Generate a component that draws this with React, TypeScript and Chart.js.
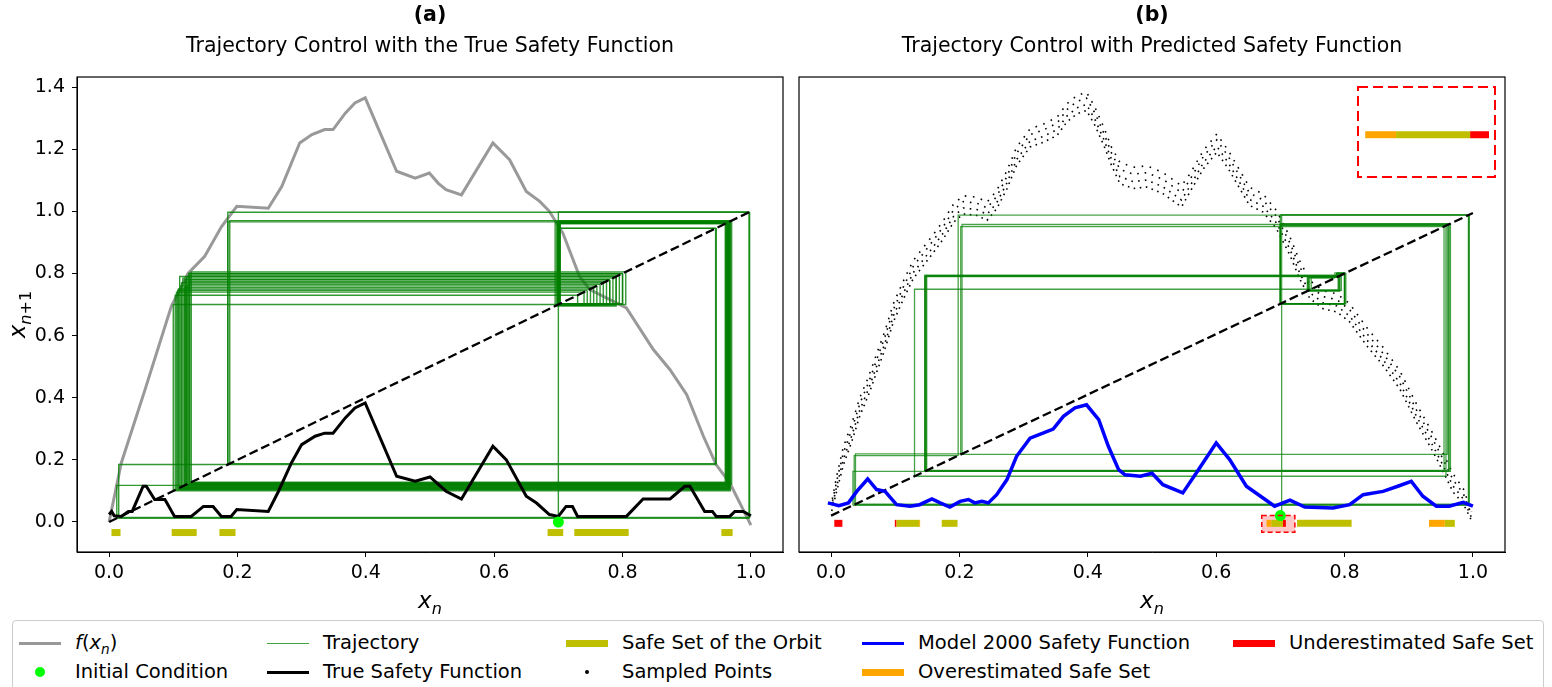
import React, { useEffect, useRef } from 'react';
import { Chart, registerables } from 'chart.js';

Chart.register(...registerables);

const FONT = '"DejaVu Sans", sans-serif';

// ---------------- data ----------------
const xTickValues = [0, 0.2, 0.4, 0.6, 0.8, 1.0];
const yTickValues = [0, 0.2, 0.4, 0.6, 0.8, 1.0, 1.2, 1.4];

// true map f(x_n)
const mapX = [0.0, 0.019, 0.056, 0.097, 0.123, 0.149, 0.175, 0.199, 0.248, 0.269, 0.297, 0.316, 0.336, 0.349, 0.368, 0.383, 0.399, 0.448, 0.477, 0.499, 0.513, 0.525, 0.549, 0.598, 0.624, 0.65, 0.671, 0.686, 0.707, 0.733, 0.749, 0.806, 0.848, 0.874, 0.9, 0.926, 0.946, 0.967, 1.0];
const mapY = [0.0, 0.19, 0.426, 0.694, 0.8, 0.855, 0.95, 1.016, 1.01, 1.08, 1.22, 1.247, 1.263, 1.263, 1.316, 1.349, 1.365, 1.129, 1.107, 1.123, 1.09, 1.07, 1.053, 1.22, 1.166, 1.064, 1.032, 1.0, 0.93, 0.79, 0.748, 0.689, 0.555, 0.49, 0.41, 0.276, 0.184, 0.126, -0.01];

// true safety function
const trueSafetyX = [0, 0.004, 0.008, 0.019, 0.03, 0.036, 0.053, 0.058, 0.071, 0.087, 0.102, 0.128, 0.147, 0.162, 0.175, 0.19, 0.199, 0.248, 0.264, 0.284, 0.3, 0.321, 0.336, 0.349, 0.368, 0.383, 0.399, 0.448, 0.477, 0.5, 0.525, 0.549, 0.598, 0.619, 0.65, 0.666, 0.686, 0.7, 0.712, 0.722, 0.73, 0.806, 0.832, 0.874, 0.897, 0.905, 0.928, 0.94, 0.946, 0.967, 0.975, 0.988, 1.0];
const trueSafetyY = [0.024, 0.034, 0.02, 0.018, 0.034, 0.034, 0.115, 0.115, 0.072, 0.072, 0.018, 0.018, 0.05, 0.05, 0.018, 0.018, 0.04, 0.034, 0.099, 0.19, 0.249, 0.276, 0.286, 0.286, 0.335, 0.367, 0.383, 0.147, 0.131, 0.145, 0.099, 0.074, 0.244, 0.2, 0.083, 0.061, 0.024, 0.018, 0.05, 0.05, 0.018, 0.018, 0.074, 0.074, 0.115, 0.115, 0.034, 0.034, 0.018, 0.018, 0.034, 0.034, 0.02];

// model 2000 predicted safety function
const modelSafetyX = [-0.005, 0.012, 0.027, 0.04, 0.057, 0.071, 0.084, 0.102, 0.123, 0.138, 0.157, 0.17, 0.185, 0.201, 0.214, 0.224, 0.235, 0.245, 0.258, 0.274, 0.289, 0.31, 0.331, 0.346, 0.362, 0.38, 0.398, 0.417, 0.432, 0.448, 0.458, 0.482, 0.5, 0.517, 0.548, 0.569, 0.6, 0.621, 0.647, 0.673, 0.691, 0.715, 0.738, 0.782, 0.808, 0.829, 0.86, 0.883, 0.904, 0.922, 0.943, 0.963, 0.985, 1.0];
const modelSafetyY = [0.042, 0.033, 0.042, 0.08, 0.121, 0.086, 0.08, 0.036, 0.031, 0.036, 0.055, 0.042, 0.028, 0.047, 0.053, 0.042, 0.047, 0.042, 0.069, 0.119, 0.196, 0.256, 0.273, 0.286, 0.328, 0.356, 0.366, 0.317, 0.229, 0.152, 0.135, 0.13, 0.14, 0.102, 0.075, 0.141, 0.24, 0.185, 0.097, 0.058, 0.031, 0.051, 0.028, 0.025, 0.036, 0.069, 0.08, 0.097, 0.113, 0.064, 0.031, 0.031, 0.044, 0.031];

// sampled points (centre of the noisy cloud and its half width)
const sampledX = [0.001, 0.009, 0.019, 0.032, 0.045, 0.058, 0.071, 0.084, 0.097, 0.113, 0.128, 0.144, 0.16, 0.175, 0.191, 0.206, 0.227, 0.243, 0.258, 0.274, 0.289, 0.31, 0.331, 0.352, 0.367, 0.383, 0.398, 0.411, 0.425, 0.437, 0.45, 0.471, 0.492, 0.517, 0.546, 0.559, 0.58, 0.601, 0.619, 0.637, 0.652, 0.673, 0.694, 0.715, 0.73, 0.746, 0.767, 0.788, 0.808, 0.834, 0.86, 0.886, 0.912, 0.938, 0.954, 0.969, 0.985, 0.998];
const sampledY = [0.03, 0.108, 0.196, 0.273, 0.361, 0.427, 0.504, 0.581, 0.67, 0.747, 0.813, 0.857, 0.901, 0.945, 1.0, 1.027, 1.022, 1.006, 1.044, 1.11, 1.187, 1.248, 1.264, 1.286, 1.33, 1.358, 1.369, 1.32, 1.253, 1.187, 1.132, 1.116, 1.121, 1.099, 1.055, 1.099, 1.176, 1.231, 1.176, 1.11, 1.055, 1.033, 0.978, 0.89, 0.813, 0.747, 0.713, 0.703, 0.67, 0.593, 0.526, 0.449, 0.339, 0.24, 0.174, 0.108, 0.064, -0.002];
const sampledSpread = [0.015, 0.025, 0.03, 0.03, 0.03, 0.03, 0.03, 0.03, 0.03, 0.03, 0.03, 0.03, 0.03, 0.03, 0.03, 0.03, 0.03, 0.03, 0.03, 0.03, 0.03, 0.03, 0.03, 0.03, 0.03, 0.03, 0.03, 0.03, 0.03, 0.03, 0.035, 0.035, 0.035, 0.035, 0.035, 0.03, 0.03, 0.03, 0.03, 0.03, 0.03, 0.03, 0.03, 0.03, 0.03, 0.03, 0.03, 0.03, 0.03, 0.03, 0.03, 0.03, 0.03, 0.03, 0.03, 0.03, 0.025, 0.015];

// controlled orbits (x_0, x_1, x_2, ...)
const orbitA = [0.70, 0.998, 0.015, 0.185, 0.997, 0.012, 0.118, 0.78, 0.70, 0.965, 0.112, 0.76, 0.698, 0.962, 0.125, 0.80, 0.702, 0.967, 0.105, 0.74, 0.70, 0.945, 0.185, 0.966, 0.11, 0.79, 0.695, 0.964, 0.12, 0.775, 0.703, 0.96, 0.128, 0.805, 0.70, 0.968, 0.10, 0.70, 0.966, 0.108, 0.75, 0.699, 0.963, 0.115, 0.785, 0.701, 0.946, 0.188, 0.97, 0.122, 0.765, 0.70, 0.966, 0.103, 0.73, 0.70, 0.961, 0.126, 0.795, 0.702, 0.965, 0.113, 0.77, 0.70, 0.967, 0.117, 0.755, 0.70, 0.962, 0.121, 0.79, 0.698, 0.965, 0.107, 0.745, 0.70, 0.964, 0.124, 0.80, 0.702, 0.966, 0.119, 0.78, 0.70];
const orbitB = [0.702, 0.994, 0.038, 0.204, 0.962, 0.147, 0.792, 0.742, 0.788, 0.80, 0.70, 0.96, 0.202, 0.955, 0.149, 0.79, 0.745, 0.785, 0.802, 0.70, 0.994, 0.036, 0.198, 0.993, 0.034, 0.146, 0.795, 0.744, 0.79, 0.80, 0.70, 0.958, 0.13, 0.748, 0.788, 0.80, 0.70, 0.963, 0.148, 0.793, 0.743, 0.788, 0.80, 0.70, 0.965, 0.146, 0.791, 0.745];
const initialCondition = 0.7;

// safe sets (intervals on x)
const safeSetA = [[0.0037, 0.0178], [0.0975, 0.1365], [0.1719, 0.197], [0.6832, 0.7076], [0.7248, 0.8096], [0.954, 0.9715]];
const safeSetB = [[0.102, 0.1373], [0.1724, 0.197], [0.686, 0.704], [0.726, 0.811], [0.9562, 0.9718]];
const underSetB = [[0.005, 0.0176], [0.0993, 0.102], [0.704, 0.7086]];
const overSetB = [[0.1373, 0.1387], [0.6785, 0.686], [0.9316, 0.9562]];
const safeBarLevelA = -0.034;
const safeBarLevelB = -0.0256;

// zoomed region marked in panel (b) and shown in the inset
const zoomRegionX = [0.671, 0.7226];
const zoomRegionY = [-0.055, 0.0];
const insetRangeX = [0.6765, 0.7103];
const insetRangeY = [-0.0572, 0.01];

// ---------------- helpers ----------------
const pts = (xs: number[], ys: number[]) => xs.map((x, i) => ({ x, y: ys[i] }));

function lineDs(data: any[], color: string, width: number, order: number, extra: any = {}) {
  return {
    data,
    showLine: true,
    borderColor: color,
    backgroundColor: color,
    borderWidth: width,
    pointRadius: 0,
    fill: false,
    tension: 0,
    order,
    ...extra,
  };
}

function cobwebDatasets(orbit: number[], color: string, width: number) {
  const out: any[] = [];
  for (let n = 0; n < orbit.length - 1; n++) {
    const a = orbit[n];
    const b = orbit[n + 1];
    const start = n === 0 ? 0 : a;
    out.push(
      lineDs(
        [
          { x: a, y: start },
          { x: a, y: b },
          { x: b, y: b },
        ],
        color,
        width,
        6
      )
    );
  }
  return out;
}

function barDatasets(intervals: number[][], level: number, color: string, order: number) {
  return intervals.map((iv) =>
    lineDs(
      [
        { x: iv[0], y: level },
        { x: iv[1], y: level },
      ],
      color,
      7,
      order,
      { borderCapStyle: 'butt' }
    )
  );
}

type Part = { t: string; italic?: boolean; sub?: boolean };

function drawMath(ctx: CanvasRenderingContext2D, parts: Part[], cx: number, cy: number, size: number) {
  const subSize = size * 0.7;
  const fontOf = (p: Part) => `${p.italic ? 'italic ' : ''}${p.sub ? subSize : size}px ${FONT}`;
  let total = 0;
  const widths = parts.map((p) => {
    ctx.font = fontOf(p);
    const w = ctx.measureText(p.t).width;
    total += w;
    return w;
  });
  let x = cx - total / 2;
  ctx.textBaseline = 'alphabetic';
  ctx.textAlign = 'left';
  parts.forEach((p, i) => {
    ctx.font = fontOf(p);
    ctx.fillText(p.t, x, cy + size * 0.3 + (p.sub ? size * 0.25 : 0));
    x += widths[i];
  });
}

const RED = '#ff0000';
const ORANGE = '#ffa500';
const OLIVE = '#bfbf00';
const GREEN_TRAJ_A = 'rgba(0,128,0,0.8)';
const GREEN_TRAJ_B = 'rgba(0,128,0,0.72)';

function decorPlugin(opts: { label: string; title: string; yLabel: boolean; zoom: boolean }) {
  return {
    id: 'decor',
    beforeDatasetsDraw(chart: any) {
      if (!opts.zoom) return;
      const { ctx } = chart;
      const xs = chart.scales.x;
      const ys = chart.scales.y;
      const x0 = xs.getPixelForValue(zoomRegionX[0]);
      const x1 = xs.getPixelForValue(zoomRegionX[1]);
      const y0 = ys.getPixelForValue(zoomRegionY[1]);
      const y1 = ys.getPixelForValue(zoomRegionY[0]);
      ctx.save();
      ctx.fillStyle = 'rgba(255,0,0,0.22)';
      ctx.fillRect(x0, y0, x1 - x0, y1 - y0);
      ctx.restore();
    },
    afterDatasetsDraw(chart: any) {
      const { ctx } = chart;
      if (opts.zoom) {
        const xs = chart.scales.x;
        const ys = chart.scales.y;
        const x0 = xs.getPixelForValue(zoomRegionX[0]);
        const x1 = xs.getPixelForValue(zoomRegionX[1]);
        const y0 = ys.getPixelForValue(zoomRegionY[1]);
        const y1 = ys.getPixelForValue(zoomRegionY[0]);
        ctx.save();
        ctx.strokeStyle = RED;
        ctx.lineWidth = 1.5;
        ctx.setLineDash([5, 3]);
        ctx.strokeRect(x0, y0, x1 - x0, y1 - y0);
        ctx.restore();
      }
    },
    afterDraw(chart: any) {
      const { ctx, chartArea } = chart;
      const cx = (chartArea.left + chartArea.right) / 2;
      ctx.save();
      ctx.strokeStyle = '#000';
      ctx.lineWidth = 1.2;
      ctx.strokeRect(chartArea.left, chartArea.top, chartArea.right - chartArea.left, chartArea.bottom - chartArea.top);
      ctx.fillStyle = '#000';
      ctx.textAlign = 'center';
      ctx.textBaseline = 'middle';
      ctx.font = `bold 20.5px ${FONT}`;
      ctx.fillText(opts.label, cx, 16);
      ctx.font = `20.5px ${FONT}`;
      ctx.fillText(opts.title, cx, 47);
      drawMath(ctx, [{ t: 'x', italic: true }, { t: 'n', italic: true, sub: true }], cx, 601, 23);
      if (opts.yLabel) {
        ctx.save();
        ctx.translate(18, (chartArea.top + chartArea.bottom) / 2);
        ctx.rotate(-Math.PI / 2);
        drawMath(
          ctx,
          [
            { t: 'x', italic: true },
            { t: 'n', italic: true, sub: true },
            { t: '+1', sub: true },
          ],
          0,
          0,
          23
        );
        ctx.restore();
      }
      ctx.restore();
    },
  };
}

function axisOptions(ymin: number, ymax: number, showY: boolean) {
  return {
    x: {
      type: 'linear',
      min: -0.05,
      max: 1.05,
      afterBuildTicks: (s: any) => {
        s.ticks = xTickValues.map((v) => ({ value: v }));
      },
      afterFit: (s: any) => {
        s.height = 63;
      },
      ticks: {
        font: { family: FONT, size: 19 },
        color: '#000',
        padding: 5,
        maxRotation: 0,
        autoSkip: false,
        callback: (v: any) => Number(v).toFixed(1),
      },
      grid: { drawOnChartArea: false, drawTicks: true, tickLength: 5, color: '#000', lineWidth: 1 },
      border: { display: true, color: '#000', width: 1 },
    },
    y: {
      type: 'linear',
      display: showY,
      min: ymin,
      max: ymax,
      afterBuildTicks: (s: any) => {
        s.ticks = yTickValues.map((v) => ({ value: v }));
      },
      afterFit: (s: any) => {
        s.width = showY ? 77 : 0;
      },
      ticks: {
        font: { family: FONT, size: 19 },
        color: '#000',
        padding: 7,
        autoSkip: false,
        callback: (v: any) => Number(v).toFixed(1),
      },
      grid: { drawOnChartArea: false, drawTicks: true, tickLength: 5, color: '#000', lineWidth: 1 },
      border: { display: true, color: '#000', width: 1 },
    },
  };
}

function buildConfigA(): any {
  const datasets: any[] = [];
  datasets.push(lineDs(pts(mapX, mapY), '#999999', 3, 8));
  datasets.push(...cobwebDatasets(orbitA, GREEN_TRAJ_A, 1.4));
  datasets.push(lineDs([{ x: 0, y: 0 }, { x: 1, y: 1 }], '#000', 2.3, 4, { borderDash: [9, 4] }));
  datasets.push(lineDs(pts(trueSafetyX, trueSafetyY), '#000', 3, 3));
  datasets.push(...barDatasets(safeSetA, safeBarLevelA, OLIVE, 2));
  datasets.push({
    data: [{ x: initialCondition, y: 0 }],
    pointRadius: 5.5,
    pointBackgroundColor: '#00ff00',
    pointBorderWidth: 0,
    showLine: false,
    order: 0,
  });
  return {
    type: 'scatter',
    data: { datasets },
    options: {
      responsive: false,
      animation: false,
      events: [],
      layout: { padding: { left: 0, right: 17, top: 77, bottom: 0 } },
      plugins: { legend: { display: false }, tooltip: { enabled: false } },
      scales: axisOptions(-0.0966, 1.4323, true),
    },
    plugins: [decorPlugin({ label: '(a)', title: 'Trajectory Control with the True Safety Function', yLabel: true, zoom: false })],
  };
}

function buildConfigB(): any {
  const datasets: any[] = [];
  const offsets = [-1, -0.35, 0.35, 1];
  offsets.forEach((k, j) => {
    const ys = sampledY.map((y, i) => y + k * (sampledSpread[i] ?? 0.03));
    datasets.push(
      lineDs(pts(sampledX, ys), '#000', 1.6, 8, { borderDash: [1.6, 4.5 + j * 0.7], borderDashOffset: j * 1.7 })
    );
  });
  datasets.push(...cobwebDatasets(orbitB, GREEN_TRAJ_B, 1.3));
  datasets.push(lineDs([{ x: 0, y: 0 }, { x: 1, y: 1 }], '#000', 2.3, 4, { borderDash: [9, 4] }));
  datasets.push(lineDs(pts(modelSafetyX, modelSafetyY), '#0000ff', 3.5, 3));
  datasets.push(...barDatasets(safeSetB, safeBarLevelB, OLIVE, 2));
  datasets.push(...barDatasets(overSetB, safeBarLevelB, ORANGE, 2));
  datasets.push(...barDatasets(underSetB, safeBarLevelB, RED, 2));
  datasets.push({
    data: [{ x: initialCondition, y: 0 }],
    pointRadius: 5.5,
    pointBackgroundColor: '#00ff00',
    pointBorderWidth: 0,
    showLine: false,
    order: 0,
  });
  return {
    type: 'scatter',
    data: { datasets },
    options: {
      responsive: false,
      animation: false,
      events: [],
      layout: { padding: { left: 9, right: 47, top: 77, bottom: 0 } },
      plugins: { legend: { display: false }, tooltip: { enabled: false } },
      scales: axisOptions(-0.1203, 1.4494, false),
    },
    plugins: [decorPlugin({ label: '(b)', title: 'Trajectory Control with Predicted Safety Function', yLabel: false, zoom: true })],
  };
}

function buildConfigInset(): any {
  const datasets: any[] = [];
  datasets.push(...barDatasets(safeSetB, safeBarLevelB, OLIVE, 2));
  datasets.push(...barDatasets(overSetB, safeBarLevelB, ORANGE, 2));
  datasets.push(...barDatasets(underSetB, safeBarLevelB, RED, 2));
  return {
    type: 'scatter',
    data: { datasets },
    options: {
      responsive: false,
      animation: false,
      events: [],
      layout: { padding: 0 },
      plugins: { legend: { display: false }, tooltip: { enabled: false } },
      scales: {
        x: { type: 'linear', display: false, min: insetRangeX[0], max: insetRangeX[1] },
        y: { type: 'linear', display: false, min: insetRangeY[0], max: insetRangeY[1] },
      },
    },
    plugins: [
      {
        id: 'insetFrame',
        beforeDraw(chart: any) {
          const { ctx, width, height } = chart;
          ctx.save();
          ctx.fillStyle = '#fff';
          ctx.fillRect(0, 0, width, height);
          ctx.restore();
        },
        afterDraw(chart: any) {
          const { ctx, width, height } = chart;
          ctx.save();
          ctx.strokeStyle = RED;
          ctx.lineWidth = 2;
          ctx.setLineDash([10, 5]);
          ctx.strokeRect(1, 1, width - 2, height - 2);
          ctx.restore();
        },
      },
    ],
  };
}

// ---------------- legend ----------------
const legendText: React.CSSProperties = {
  position: 'absolute',
  fontFamily: FONT,
  fontSize: 19.5,
  lineHeight: '24px',
  whiteSpace: 'nowrap',
  color: '#000',
};

function LineHandle({ x, y, color, width }: { x: number; y: number; color: string; width: number }) {
  return (
    <div
      style={{
        position: 'absolute',
        left: x - 56,
        top: y - width / 2,
        width: 42,
        height: width,
        background: color,
      }}
    />
  );
}

function DotHandle({ x, y, color, r }: { x: number; y: number; color: string; r: number }) {
  return (
    <div
      style={{
        position: 'absolute',
        left: x - 35 - r,
        top: y - r,
        width: 2 * r,
        height: 2 * r,
        borderRadius: '50%',
        background: color,
      }}
    />
  );
}

function Label({ x, y, children }: { x: number; y: number; children: any }) {
  return <div style={{ ...legendText, left: x, top: y - 12 }}>{children}</div>;
}

export default function App() {
  const refA = useRef<HTMLCanvasElement>(null);
  const refB = useRef<HTMLCanvasElement>(null);
  const refI = useRef<HTMLCanvasElement>(null);

  useEffect(() => {
    document.body.style.margin = '0';
    const a = new Chart(refA.current as HTMLCanvasElement, buildConfigA());
    const b = new Chart(refB.current as HTMLCanvasElement, buildConfigB());
    const i = new Chart(refI.current as HTMLCanvasElement, buildConfigInset());
    return () => {
      a.destroy();
      b.destroy();
      i.destroy();
    };
  }, []);

  const r1 = 643;
  const r2 = 672;
  const c = [75, 323, 622, 918, 1289];

  return (
    <div style={{ position: 'absolute', left: 0, top: 0, width: 1552, height: 687, overflow: 'hidden', background: '#fff' }}>
      <canvas ref={refA} width={800} height={615} style={{ position: 'absolute', left: 0, top: 0 }} />
      <canvas ref={refB} width={762} height={615} style={{ position: 'absolute', left: 790, top: 0 }} />
      <canvas ref={refI} width={139} height={92} style={{ position: 'absolute', left: 1357, top: 86 }} />

      <div
        style={{
          position: 'absolute',
          left: 12,
          top: 620,
          width: 1532,
          height: 90,
          border: '1px solid #cccccc',
          borderRadius: 4,
          boxSizing: 'border-box',
        }}
      />
      <LineHandle x={c[0]} y={r1} color="#999999" width={3} />
      <Label x={c[0]} y={r1}>
        <i>f</i>(<i>x</i>
        <span style={{ fontSize: '70%', fontStyle: 'italic', position: 'relative', top: 5 }}>n</span>)
      </Label>
      <DotHandle x={c[0]} y={r2} color="#00ff00" r={5} />
      <Label x={c[0]} y={r2}>Initial Condition</Label>

      <LineHandle x={c[1]} y={r1} color="rgba(0,128,0,0.75)" width={1} />
      <Label x={c[1]} y={r1}>Trajectory</Label>
      <LineHandle x={c[1]} y={r2} color="#000" width={3} />
      <Label x={c[1]} y={r2}>True Safety Function</Label>

      <LineHandle x={c[2]} y={r1} color={OLIVE} width={7} />
      <Label x={c[2]} y={r1}>Safe Set of the Orbit</Label>
      <DotHandle x={c[2]} y={r2} color="#000" r={2.2} />
      <Label x={c[2]} y={r2}>Sampled Points</Label>

      <LineHandle x={c[3]} y={r1} color="#0000ff" width={3} />
      <Label x={c[3]} y={r1}>Model 2000 Safety Function</Label>
      <LineHandle x={c[3]} y={r2} color={ORANGE} width={7} />
      <Label x={c[3]} y={r2}>Overestimated Safe Set</Label>

      <LineHandle x={c[4]} y={r1} color={RED} width={7} />
      <Label x={c[4]} y={r1}>Underestimated Safe Set</Label>
    </div>
  );
}
